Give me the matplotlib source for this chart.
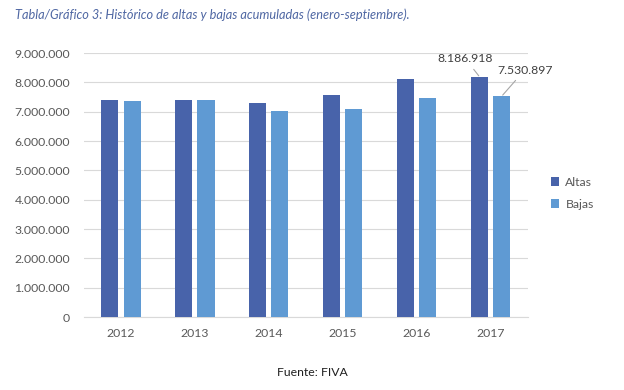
import numpy as np
import matplotlib.pyplot as plt
from matplotlib.ticker import FuncFormatter

years = ['2012', '2013', '2014', '2015', '2016', '2017']
altas = [7400000, 7410000, 7290000, 7560000, 8110000, 8186918]
bajas = [7355000, 7410000, 7010000, 7100000, 7480000, 7530897]

plt.rcParams['font.family'] = ['Lato', 'DejaVu Sans']

fig = plt.figure(figsize=(6.24, 3.9), dpi=100)
ax = fig.add_axes([0.1346, 0.187, 0.711, 0.677])

x = np.arange(len(years))
w = 0.23
ax.bar(x - 0.15, altas, w, color='#4863AA', label='Altas', zorder=3)
ax.bar(x + 0.15, bajas, w, color='#5F9AD3', label='Bajas', zorder=3)

ax.set_xlim(-0.5, len(years) - 0.5)
ax.set_ylim(0, 9000000)
ax.set_yticks(np.arange(0, 9000001, 1000000))
ax.yaxis.set_major_formatter(FuncFormatter(lambda v, p: f'{int(v):,}'.replace(',', '.')))
ax.set_xticks(x)
ax.set_xticklabels(years)
ax.tick_params(axis='both', length=0, labelsize=8.8, colors='#595959')
ax.tick_params(axis='y', pad=10)
ax.tick_params(axis='x', pad=8)
ax.grid(axis='y', color='#D9D9D9', linewidth=0.8, zorder=0)
for s in ['top', 'right', 'left']:
    ax.spines[s].set_visible(False)
ax.spines['bottom'].set_color('#D9D9D9')

# etiquetas de datos en 2017
ax.annotate(f'{altas[-1]:,}'.replace(',', '.'), xy=(5 - 0.15, altas[-1]),
            xytext=(4.66, 8800000), ha='center', va='center', fontsize=8.8, color='#404040',
            arrowprops=dict(arrowstyle='-', color='#A6A6A6', lw=0.8, shrinkA=2, shrinkB=1))
ax.annotate(f'{bajas[-1]:,}'.replace(',', '.'), xy=(5 + 0.15, bajas[-1]),
            xytext=(5.46, 8420000), ha='center', va='center', fontsize=8.8, color='#404040',
            arrowprops=dict(arrowstyle='-', color='#A6A6A6', lw=0.8, shrinkA=2, shrinkB=1))

fig.legend(loc='center left', bbox_to_anchor=(0.865, 0.505), frameon=False, fontsize=8.8,
           handlelength=0.7, handleheight=0.7, handletextpad=0.5, labelspacing=0.9,
           labelcolor='#595959')

fig.text(0.024, 0.962, 'Tabla/Gráfico 3: Histórico de altas y bajas acumuladas (enero-septiembre).',
         fontsize=9.2, style='italic', color='#4F67A3', va='center')
fig.text(0.5, 0.046, 'Fuente: FIVA', fontsize=8.8, color='#202020', ha='center', va='center')

fig.savefig('out.png', dpi=100)
